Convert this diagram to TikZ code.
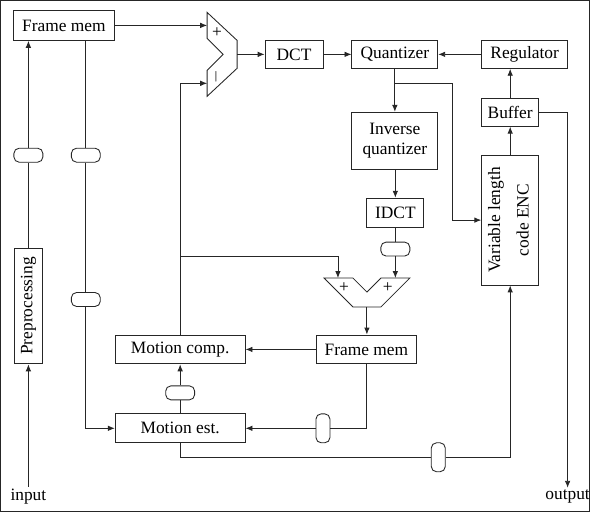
\documentclass[tikz,border=0pt]{standalone}
\usepackage{fontspec}
\setmainfont{Liberation Serif}
\usetikzlibrary{arrows.meta,calc}
\begin{document}
\begin{tikzpicture}[x=0.575pt,y=-0.575pt,
  every path/.style={line width=0.5pt,draw=black!85},
  box/.style={draw=black!85,fill=white,inner sep=0pt,align=center},
  brk/.style={draw=black!85,fill=white,rounded corners=3pt,inner sep=0pt,
    minimum width=29*0.575pt,minimum height=14*0.575pt},
  vbrk/.style={draw=black!85,fill=white,rounded corners=3pt,inner sep=0pt,
    minimum width=14*0.575pt,minimum height=29*0.575pt},
  arr/.style={-{Latex[length=4pt,width=3.2pt]}},
  lbl/.style={inner sep=1pt}
]
\useasboundingbox (0,0) rectangle (590,512);
% boxes
\node[box,minimum width=101*0.575pt,minimum height=30*0.575pt] (fm1) at (63.5,25) {Frame mem};
\node[box,minimum width=58*0.575pt,minimum height=28*0.575pt] (dct) at (294,54) {DCT};
\node[box,minimum width=86*0.575pt,minimum height=28*0.575pt] (q) at (395,54) {Quantizer};
\node[box,minimum width=86*0.575pt,minimum height=28*0.575pt] (reg) at (525,54) {Regulator};
\node[box,minimum width=57*0.575pt,minimum height=28*0.575pt] (buf) at (510.5,112) {Buffer};
\node[box,minimum width=86*0.575pt,minimum height=57*0.575pt] (iq) at (395,140.5) {Inverse\\quantizer};
\node[box,minimum width=57*0.575pt,minimum height=29*0.575pt] (idct) at (395.5,212.5) {IDCT};
\node[box,minimum width=57*0.575pt,minimum height=130*0.575pt] (vlc) at (510.5,220)
  {\rotatebox{90}{\begin{tabular}{@{}c@{}}Variable length\\[4.5pt]code ENC\end{tabular}}};
\node[box,minimum width=28*0.575pt,minimum height=116*0.575pt] (prep) at (28,306) {\rotatebox{90}{Preprocessing}};
\node[box,minimum width=101*0.575pt,minimum height=29*0.575pt] (fm2) at (366.5,349.5) {Frame mem};
\node[box,minimum width=130*0.575pt,minimum height=29*0.575pt] (mc) at (180,349.5) {Motion comp.};
\node[box,minimum width=130*0.575pt,minimum height=29*0.575pt] (me) at (180,428.5) {Motion est.};
\node[lbl] (in) at (28,497) {input};
\node[lbl] (out) at (568,497) {output};
% subtractor
\draw (207,12) -- (237,40) -- (237,68) -- (207,96) -- (207,70) -- (223,54) -- (207,38) -- cycle;
\coordinate (subP) at (207,25);
\coordinate (subM) at (207,83);
\coordinate (subO) at (237,54);
\node[inner sep=0pt] (plus1) at (217,32) {+};
\node[inner sep=0pt,rotate=90] (minus1) at (216,76) {$-$};
% adder
\draw (324,278) -- (353,278) -- (367,292) -- (381,278) -- (410,278) -- (381,307) -- (353,307) -- cycle;
\coordinate (addL) at (338,278);
\coordinate (addR) at (395.5,278);
\coordinate (addO) at (367,307);
\node[inner sep=0pt] (plus2) at (344,288) {+};
\node[inner sep=0pt] (plus3) at (388,288) {+};
% breaks
\node[brk] (b1) at (28,155) {};
\node[brk] (b2) at (85.5,155) {};
\node[brk] (b3) at (85.5,299.5) {};
\node[brk] (b4) at (395.5,249) {};
\node[brk] (b5) at (180,393) {};
\node[vbrk] (b6) at (323,428.5) {};
\node[vbrk] (b7) at (438.5,457.5) {};
% helper coordinates
\coordinate (qb) at (395,83);
\coordinate (qr) at (453,83);
\coordinate (j1) at (180,256);
% connectors
\draw[arr] (in.north) -- (prep.south);
\draw (prep.north) -- (b1.south);
\draw[arr] (b1.north) -- (b1.north |- fm1.south);
\draw (b2.north |- fm1.south) -- (b2.north);
\draw (b2.south) -- (b3.north);
\draw[arr] (b3.south) |- (me.west);
\draw[arr] (fm1.east |- subP) -- (subP);
\draw[arr] (subO) -- (dct.west);
\draw[arr] (dct.east) -- (q.west);
\draw[arr] (reg.west) -- (q.east);
\draw[arr] (buf.north) -- (buf.north |- reg.south);
\draw[arr] (q.south) -- (iq.north);
\draw[arr] (qb) -- (qr) |- (vlc.west);
\draw[arr] (iq.south -| idct.north) -- (idct.north);
\draw (idct.south) -- (b4.north);
\draw[arr] (b4.south) -- (addR);
\draw[arr] (addO) -- (addO |- fm2.north);
\draw[arr] (fm2.west) -- (mc.east);
\draw (fm2.south) |- (b6.east);
\draw[arr] (b6.west) -- (me.east);
\draw (me.north) -- (b5.south);
\draw[arr] (b5.north) -- (mc.south);
\draw[arr] (mc.north) |- (subM);
\draw[arr] (j1) -| (addL);
\draw (me.south) |- (b7.west);
\draw[arr] (b7.east) -| (vlc.south);
\draw[arr] (vlc.north) -- (buf.south);
\draw[arr] (buf.east) -| (out.north);
\end{tikzpicture}
\end{document}
